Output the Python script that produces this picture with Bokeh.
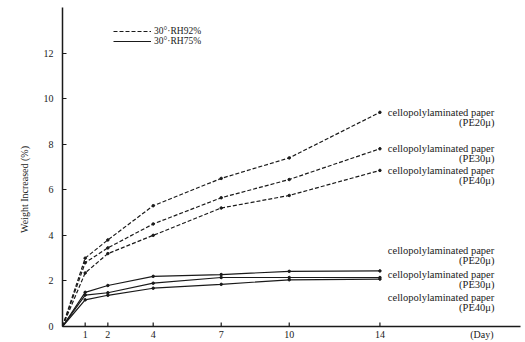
import math
from bokeh.plotting import figure
from bokeh.models import Range1d, FixedTicker, Label, Legend, LegendItem
from bokeh.embed import file_html
from bokeh.resources import INLINE

# ---- data ----
days = [0, 1, 2, 4, 7, 10, 14]
rh92_pe20 = [0, 3.0, 3.8, 5.3, 6.5, 7.4, 9.4]
rh92_pe30 = [0, 2.8, 3.45, 4.5, 5.65, 6.45, 7.8]
rh92_pe40 = [0, 2.35, 3.2, 4.0, 5.2, 5.75, 6.85]
rh75_pe20 = [0, 1.5, 1.8, 2.2, 2.28, 2.42, 2.44]
rh75_pe30 = [0, 1.38, 1.48, 1.9, 2.15, 2.15, 2.15]
rh75_pe40 = [0, 1.17, 1.37, 1.68, 1.85, 2.05, 2.08]
x_ticks = [1, 2, 4, 7, 10, 14]
y_ticks = [0, 2, 4, 6, 8, 10, 12]
series_name = "cellopolylaminated paper"
pe_labels = ["(PE20μ)", "(PE30μ)", "(PE40μ)"]
legend_labels = ["30°·RH92%", "30°·RH75%"]
x_unit = "(Day)"
x_unit_pos = 18.5
y_title = "Weight  Increased  (%)"

FONT = "Liberation Serif"
INK = "#1a1a1a"

p = figure(width=525, height=342, output_backend="svg", toolbar_location=None,
           x_range=Range1d(0, 20.2), y_range=Range1d(0, 14),
           min_border_left=62, min_border_right=5, min_border_top=7,
           min_border_bottom=14)
p.background_fill_color = "white"
p.border_fill_color = "white"
p.outline_line_color = None
p.grid.visible = False

for ax in (p.xaxis[0], p.yaxis[0]):
    ax.axis_line_color = INK
    ax.axis_line_width = 1.5
    ax.major_tick_line_color = INK
    ax.major_tick_in = 4
    ax.major_tick_out = 0
    ax.minor_tick_line_color = None
    ax.major_label_text_font = FONT
    ax.major_label_text_font_size = "10px"
    ax.major_label_text_color = INK

# x axis: labels from the axis (incl. the unit), tick marks drawn as inward dashes
p.xaxis.ticker = FixedTicker(ticks=x_ticks + [x_unit_pos])
p.xaxis.major_label_overrides = {x_unit_pos: x_unit}
p.xaxis.major_tick_line_color = None
p.xaxis.major_label_standoff = 2
p.scatter(x_ticks, [0] * len(x_ticks), marker="dash", angle=math.pi / 2,
          size=8, line_color=INK, line_width=1.2)

p.yaxis.ticker = FixedTicker(ticks=y_ticks)
p.yaxis.major_label_standoff = 9
p.yaxis.axis_label = y_title + "\u00a0" * 16
p.yaxis.axis_label_text_font = FONT
p.yaxis.axis_label_text_font_size = "10px"
p.yaxis.axis_label_text_font_style = "normal"
p.yaxis.axis_label_text_color = INK
p.yaxis.axis_label_standoff = 11

dashed = [rh92_pe20, rh92_pe30, rh92_pe40]
solid = [rh75_pe20, rh75_pe30, rh75_pe40]
r_dash = None
r_solid = None
for ys in dashed:
    r = p.line(days, ys, line_color=INK, line_width=1.2, line_dash="4 2")
    p.scatter(days[1:], ys[1:], size=2.5, color=INK)
    r_dash = r_dash or r
for ys in solid:
    r = p.line(days, ys, line_color=INK, line_width=1.2)
    p.scatter(days[1:], ys[1:], size=2.5, color=INK)
    r_solid = r_solid or r

# series labels
label_x = 14.35
label_x2 = 19.05
dash_label_y = [ys[-1] for ys in dashed]
solid_label_y = [3.35, 2.29, 1.27]
for ly, pe in zip(dash_label_y + solid_label_y, pe_labels * 2):
    p.add_layout(Label(x=label_x, y=ly, text=series_name, text_font=FONT,
                       text_font_size="10.5px", text_baseline="middle",
                       text_color=INK))
    p.add_layout(Label(x=label_x2, y=ly, y_offset=-10, text=pe, text_font=FONT,
                       text_font_size="10.5px", text_baseline="middle",
                       text_align="right", text_color=INK))

legend = Legend(items=[LegendItem(label=legend_labels[0], renderers=[r_dash]),
                       LegendItem(label=legend_labels[1], renderers=[r_solid])],
                location=(51, 280), padding=0, margin=0, spacing=0,
                glyph_width=38, glyph_height=10, label_height=10,
                label_standoff=3, label_text_font=FONT,
                label_text_font_size="9.5px", label_text_color=INK,
                border_line_color=None, background_fill_alpha=0)
p.add_layout(legend, "center")

open("out.html", "w").write(file_html(p, INLINE))
